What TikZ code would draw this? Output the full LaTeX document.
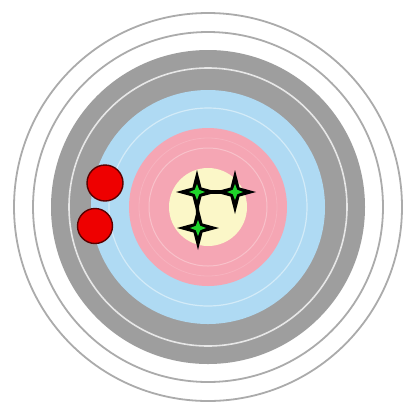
\documentclass[tikz,border=0pt]{standalone}
\usepackage{xcolor}
\definecolor{ringgray}{HTML}{9E9E9E}
\definecolor{ringline}{HTML}{ABABAB}
\definecolor{ringblue}{HTML}{AFDAF3}
\definecolor{ringpink}{HTML}{F5A6B4}
\definecolor{ringgold}{HTML}{FBF7C8}
\definecolor{shotred}{HTML}{EE0000}
\definecolor{shotrim}{HTML}{5A0000}
\definecolor{hitgreen}{HTML}{1FD42A}

\begin{document}
\begin{tikzpicture}[x=1pt,y=-1pt]
  \useasboundingbox[fill=white] (0,0) rectangle (409,408);
  \coordinate (c) at (208,207);

  % Outer white zone
  \draw[ringline,line width=1.8pt] (c) circle (194);
  \draw[ringline,line width=1.8pt] (c) circle (175);

  % Gray, blue, pink and gold zones
  \fill[ringgray] (c) circle (157);
  \draw[white!75!ringgray,line width=1.6pt] (c) circle (139);
  \fill[ringblue] (c) circle (117);
  \draw[white!45!ringblue,line width=1.2pt] (c) circle (99);
  \fill[ringpink] (c) circle (79);
  \draw[white!30!ringpink,line width=1pt] (c) circle (59);
  \draw[white!15!ringpink,line width=0.8pt] (c) circle (69);
  \fill[ringgold] (c) circle (39);

  % Misses: two red shots on the left
  \fill[shotred,draw=shotrim,line width=1.4pt] (105,183) circle (18);
  \fill[shotred,draw=shotrim,line width=1.4pt] (95,226) circle (17.5);

  % Hits: three stars near the centre
  \draw[black,line width=3.2pt] (197,192) -- (235,192);
  \draw[black,line width=3.2pt] (197,192) -- (198,228);
  \foreach \sx/\sy in {197/192,235/192,198/228} {
    \fill[black] (\sx,\sy) +(21,0) -- +(4.5,-4.5) -- +(0,-22) -- +(-4.5,-4.5)
      -- +(-21,0) -- +(-4.5,4.5) -- +(0,22) -- +(4.5,4.5) -- cycle;
    \fill[hitgreen] (\sx,\sy) +(8,0) -- +(2.2,-2.2) -- +(0,-8) -- +(-2.2,-2.2)
      -- +(-8,0) -- +(-2.2,2.2) -- +(0,8) -- +(2.2,2.2) -- cycle;
  }
\end{tikzpicture}
\end{document}
